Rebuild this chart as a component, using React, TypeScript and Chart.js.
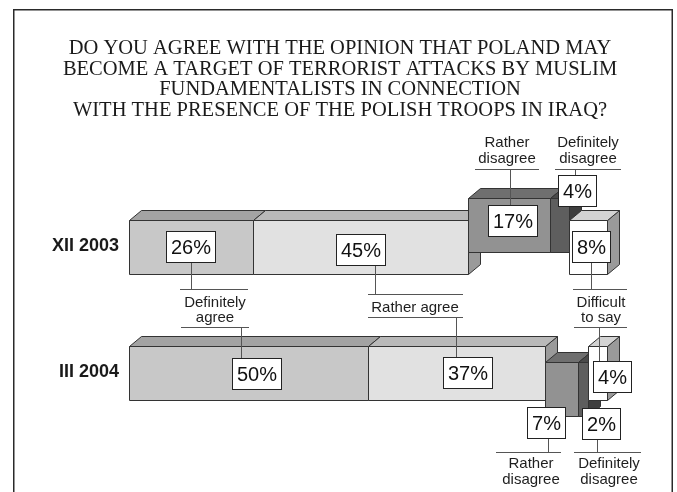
import React, { useEffect, useRef } from "react";
import { Chart, registerables } from "chart.js";

Chart.register(...registerables);

// ---------- data ----------
const periods = ["XII 2003", "III 2004"];
const answers = [
  "Definitely agree",
  "Rather agree",
  "Rather disagree",
  "Definitely disagree",
  "Difficult to say",
];
const definitelyAgree = [26, 50];
const ratherAgree = [45, 37];
const ratherDisagree = [17, 7];
const definitelyDisagree = [4, 2];
const difficultToSay = [8, 4];
const series = [definitelyAgree, ratherAgree, ratherDisagree, definitelyDisagree, difficultToSay];

const titleLines = [
  "DO YOU AGREE WITH THE OPINION THAT POLAND MAY",
  "BECOME A TARGET OF TERRORIST ATTACKS BY MUSLIM",
  "FUNDAMENTALISTS IN CONNECTION",
  "WITH THE PRESENCE OF THE POLISH TROOPS IN IRAQ?",
];

// ---------- styles ----------
const faces = [
  { front: "#c8c8c8", top: "#a3a3a3", side: "#8a8a8a" },
  { front: "#e1e1e1", top: "#b9b9b9", side: "#9a9a9a" },
  { front: "#929292", top: "#6f6f6f", side: "#5c5c5c" },
  { front: "#5e5e5e", top: "#4a4a4a", side: "#3e3e3e" },
  { front: "#ffffff", top: "#d3d3d3", side: "#9a9a9a" },
];
// vertical displacement of segments (exploded pieces), px
const segShift = [
  [0, 0, -22, -22, 0],
  [0, 0, 16, 16, 0],
];
// value box centre offset from segment front centre, px
const boxOffset = [
  [[-1, 0], [0, 3], [3, -4], [18, -34], [3.5, 0]],
  [[8, 0.5], [11.5, 0], [-16, 33.5], [18, 35], [14.5, 3.5]],
];
const DX = 12;
const DY = -10;
const EDGE = "#333333";
const LEADER = "#555555";
const SANS = '"Liberation Sans", Arial, sans-serif';

type Callout = {
  lines: string[];
  cx: number;
  baselines: number[];
  rules: { y: number; x1: number; x2: number }[];
  links: { row: number; ds: number; x: number; toY: number }[];
};
const callouts: Callout[] = [
  {
    lines: ["Definitely", "agree"], cx: 215, baselines: [306.5, 322],
    rules: [{ y: 289, x1: 180, x2: 248 }, { y: 327, x1: 181, x2: 249 }],
    links: [{ row: 0, ds: 0, x: 191, toY: 289 }, { row: 1, ds: 0, x: 241, toY: 327 }],
  },
  {
    lines: ["Rather agree"], cx: 415, baselines: [311.5],
    rules: [{ y: 294, x1: 368, x2: 463 }, { y: 317, x1: 368, x2: 463 }],
    links: [{ row: 0, ds: 1, x: 375, toY: 294 }, { row: 1, ds: 1, x: 456, toY: 317 }],
  },
  {
    lines: ["Rather", "disagree"], cx: 507, baselines: [147, 163],
    rules: [{ y: 169, x1: 475, x2: 539 }],
    links: [{ row: 0, ds: 2, x: 510, toY: 169 }],
  },
  {
    lines: ["Definitely", "disagree"], cx: 588, baselines: [147, 163],
    rules: [{ y: 169, x1: 555, x2: 621 }],
    links: [{ row: 0, ds: 3, x: 575, toY: 169 }],
  },
  {
    lines: ["Difficult", "to say"], cx: 601, baselines: [306.5, 322],
    rules: [{ y: 289, x1: 573, x2: 627 }, { y: 327, x1: 574, x2: 627 }],
    links: [{ row: 0, ds: 4, x: 591, toY: 289 }, { row: 1, ds: 4, x: 599, toY: 327 }],
  },
  {
    lines: ["Rather", "disagree"], cx: 531, baselines: [467.5, 483.5],
    rules: [{ y: 452, x1: 496, x2: 561 }],
    links: [{ row: 1, ds: 2, x: 548, toY: 452 }],
  },
  {
    lines: ["Definitely", "disagree"], cx: 609, baselines: [467.5, 483.5],
    rules: [{ y: 452, x1: 574, x2: 641 }],
    links: [{ row: 1, ds: 3, x: 597, toY: 452 }],
  },
];

function poly(ctx: CanvasRenderingContext2D, pts: number[][], fill: string) {
  ctx.beginPath();
  ctx.moveTo(pts[0][0], pts[0][1]);
  for (let i = 1; i < pts.length; i++) ctx.lineTo(pts[i][0], pts[i][1]);
  ctx.closePath();
  ctx.fillStyle = fill;
  ctx.fill();
  ctx.strokeStyle = EDGE;
  ctx.lineWidth = 1;
  ctx.stroke();
}

function box3d(ctx: CanvasRenderingContext2D, x0: number, x1: number, yT: number, yB: number, c: any) {
  x0 = Math.round(x0) + 0.5;
  x1 = Math.round(x1) + 0.5;
  yT = Math.round(yT) + 0.5;
  yB = Math.round(yB) + 0.5;
  poly(ctx, [[x1, yT], [x1 + DX, yT + DY], [x1 + DX, yB + DY], [x1, yB]], c.side);
  poly(ctx, [[x0, yT], [x0 + DX, yT + DY], [x1 + DX, yT + DY], [x1, yT]], c.top);
  poly(ctx, [[x0, yT], [x1, yT], [x1, yB], [x0, yB]], c.front);
}

const fake3d = {
  id: "fake3d",
  beforeDraw(chart: any) {
    const ctx = chart.ctx as CanvasRenderingContext2D;
    ctx.save();
    ctx.fillStyle = "#ffffff";
    ctx.fillRect(0, 0, chart.width, chart.height);
    ctx.strokeStyle = "#2a2a2a";
    ctx.lineWidth = 1.5;
    ctx.strokeRect(13.75, 9.75, 658.5, 500);
    ctx.fillStyle = "#1a1a1a";
    ctx.font = '20.5px "Liberation Serif", "Times New Roman", serif';
    ctx.textAlign = "center";
    ctx.textBaseline = "alphabetic";
    titleLines.forEach((t, i) => ctx.fillText(t, 340, 54 + i * 20.5));
    ctx.restore();
  },
  beforeDatasetsDraw(chart: any) {
    const ctx = chart.ctx as CanvasRenderingContext2D;
    ctx.save();
    const boxes: any = {};
    const nRows = chart.data.labels.length;
    for (let r = 0; r < nRows; r++) {
      for (let d = 0; d < chart.data.datasets.length; d++) {
        const el = chart.getDatasetMeta(d).data[r];
        const x0 = Math.min(el.base, el.x);
        const x1 = Math.max(el.base, el.x);
        const cy = el.y + segShift[r][d];
        const h = el.height;
        box3d(ctx, x0, x1, cy - h / 2, cy + h / 2, faces[d]);
        boxes[r + "_" + d] = { cx: (x0 + x1) / 2 + boxOffset[r][d][0], cy: cy + boxOffset[r][d][1], v: chart.data.datasets[d].data[r] };
      }
    }
    ctx.font = "20px " + SANS;
    const BH = 31;
    Object.keys(boxes).forEach((k) => {
      const b = boxes[k];
      const t = b.v + "%";
      const w = Math.round(ctx.measureText(t).width + 9);
      b.text = t;
      b.x = Math.round(b.cx - w / 2) + 0.5;
      b.y = Math.round(b.cy - BH / 2) + 0.5;
      b.w = w;
      b.h = BH;
    });
    ctx.strokeStyle = LEADER;
    ctx.lineWidth = 1;
    callouts.forEach((c) => {
      c.rules.forEach((ru) => {
        ctx.beginPath();
        ctx.moveTo(ru.x1, Math.round(ru.y) + 0.5);
        ctx.lineTo(ru.x2, Math.round(ru.y) + 0.5);
        ctx.stroke();
      });
      c.links.forEach((l) => {
        const b = boxes[l.row + "_" + l.ds];
        const fromY = l.toY > b.y + b.h ? b.y + b.h : b.y;
        ctx.beginPath();
        ctx.moveTo(Math.round(l.x) + 0.5, fromY);
        ctx.lineTo(Math.round(l.x) + 0.5, Math.round(l.toY) + 0.5);
        ctx.stroke();
      });
      ctx.fillStyle = "#1e1e1e";
      ctx.font = "15px " + SANS;
      ctx.textAlign = "center";
      ctx.textBaseline = "alphabetic";
      c.lines.forEach((t, i) => ctx.fillText(t, c.cx, c.baselines[i]));
    });
    Object.keys(boxes).forEach((k) => {
      const b = boxes[k];
      ctx.fillStyle = "#ffffff";
      ctx.fillRect(b.x, b.y, b.w, b.h);
      ctx.strokeStyle = "#222222";
      ctx.lineWidth = 1;
      ctx.strokeRect(b.x, b.y, b.w, b.h);
      ctx.fillStyle = "#111111";
      ctx.font = "20px " + SANS;
      ctx.textAlign = "center";
      ctx.textBaseline = "middle";
      ctx.fillText(b.text, b.x + b.w / 2, b.y + b.h / 2 + 1);
    });
    ctx.restore();
    return false;
  },
};

export default function App() {
  const ref = useRef<HTMLCanvasElement>(null);
  useEffect(() => {
    const chart = new Chart(ref.current as HTMLCanvasElement, {
      type: "bar",
      data: {
        labels: periods,
        datasets: series.map((data, i) => ({
          label: answers[i],
          data,
          backgroundColor: faces[i].front,
          barThickness: 54,
        })),
      },
      options: {
        indexAxis: "y",
        responsive: false,
        animation: false,
        layout: { padding: { left: 0, right: 70, top: 183.5, bottom: 56.5 } },
        plugins: {
          legend: { display: false },
          tooltip: { enabled: false },
          title: { display: false },
        },
        scales: {
          x: { stacked: true, min: 0, max: 100, display: false },
          y: {
            stacked: true,
            grid: { display: false, drawTicks: false },
            border: { display: false },
            ticks: {
              padding: 10,
              color: "#1a1a1a",
              font: { family: SANS, size: 18, weight: "bold" },
            },
            afterFit: (s: any) => {
              s.width = 129;
            },
          },
        },
      } as any,
      plugins: [fake3d as any],
    });
    return () => chart.destroy();
  }, []);
  return (
    <div style={{ position: "fixed", left: 0, top: 0, width: 677, height: 492, background: "#fff" }}>
      <canvas ref={ref} width={677} height={492} style={{ display: "block" }} />
    </div>
  );
}
